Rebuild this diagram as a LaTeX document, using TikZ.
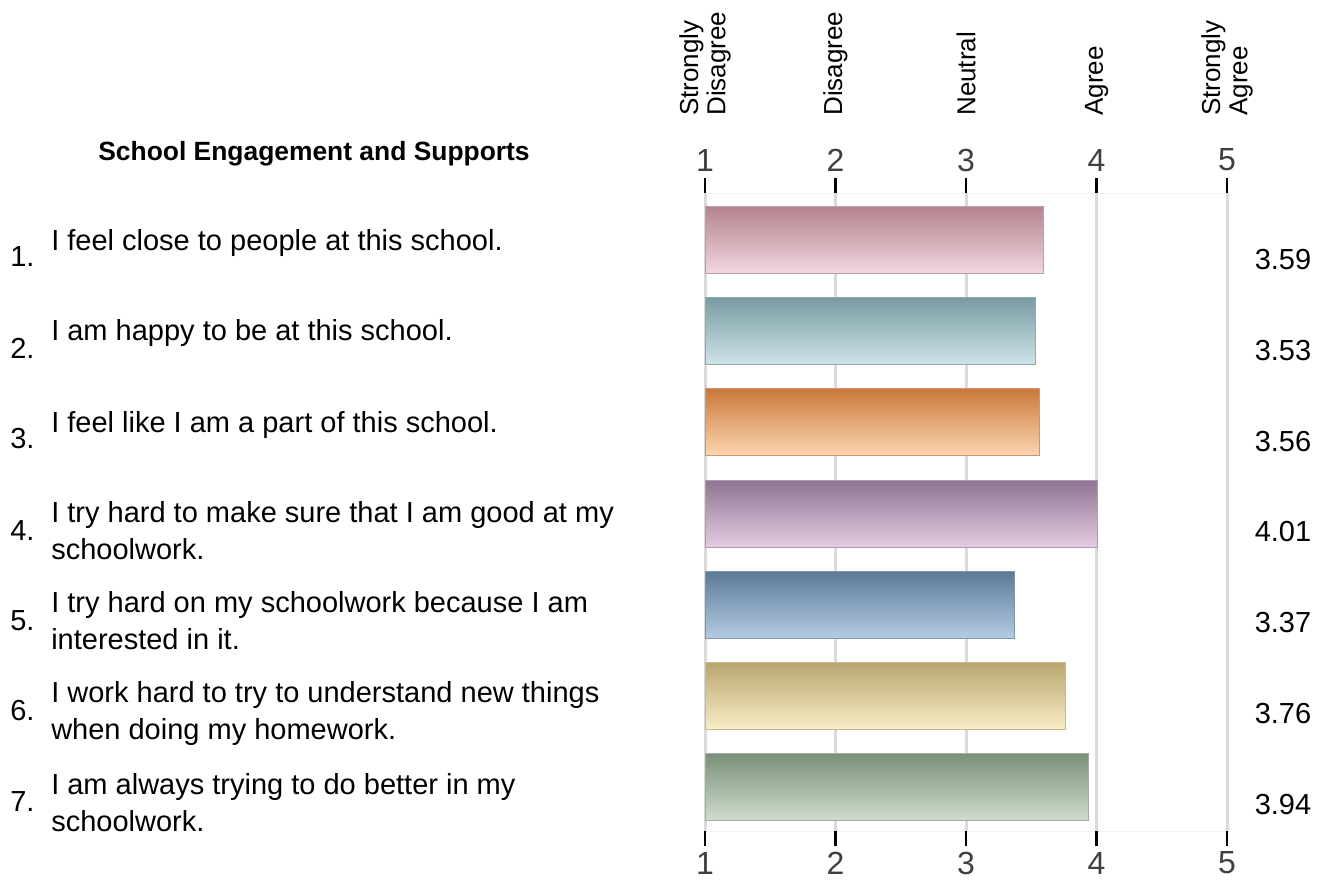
\documentclass[tikz,border=0pt]{standalone}
\usepackage{fontspec}
\setmainfont{Liberation Sans}
\usepackage{tikz}

\definecolor{gridgray}{RGB}{218,218,218}
\definecolor{framegray}{RGB}{242,242,242}
\definecolor{numgray}{RGB}{64,64,64}

\tikzset{
  itemtext/.style={anchor=base west,inner sep=0pt,align=left,font=\fontsize{21.75}{27.75}\selectfont},
  itemnum/.style={anchor=base west,inner sep=0pt,font=\fontsize{21.75}{26}\selectfont},
  scalelab/.style={anchor=west,rotate=90,inner sep=0pt,align=left,font=\fontsize{19.5}{20.5}\selectfont},
  ticknum/.style={inner sep=0pt,text=numgray,font=\fontsize{24}{28}\selectfont},
  valuelab/.style={inner sep=0pt,font=\fontsize{21.75}{26}\selectfont},
  bar/.style={line width=0.75pt},
}

\begin{document}
\begin{tikzpicture}[x=0.75pt,y=0.75pt,yscale=-1,xscale=1]
\useasboundingbox (0,0) rectangle (1327,879);

%Straight Lines: frame top and bottom
\draw [color=framegray,line width=0.75pt] (705,193) -- (1227,193) ;
\draw [color=framegray,line width=0.75pt] (705,831) -- (1227,831) ;

%Straight Lines: grid and ticks
\foreach \gx in {705,835.5,966,1096.5,1227}{
  \draw [color=gridgray,line width=2.25pt] (\gx,193) -- (\gx,831) ;
  \draw [line width=2pt] (\gx,178) -- (\gx,193) ;
  \draw [line width=2pt] (\gx,831) -- (\gx,846) ;
}

%Shape: Rectangle [bar 1]
\draw [bar,draw={rgb,255:red,190;green,160;blue,170},top color={rgb,255:red,179;green,131;blue,143},middle color={rgb,255:red,232;green,180;blue,192},bottom color={rgb,255:red,242;green,214;blue,222}] (705,206) rectangle (1043,273) ;
%Shape: Rectangle [bar 2]
\draw [bar,draw={rgb,255:red,140;green,170;blue,176},top color={rgb,255:red,119;green,155;blue,161},middle color={rgb,255:red,157;green,202;blue,211},bottom color={rgb,255:red,205;green,227;blue,232}] (705,297) rectangle (1035.2,364) ;
%Shape: Rectangle [bar 3]
\draw [bar,draw={rgb,255:red,205;green,150;blue,110},top color={rgb,255:red,200;green,120;blue,58},middle color={rgb,255:red,251;green,167;blue,92},bottom color={rgb,255:red,253;green,213;blue,175}] (705,388) rectangle (1039.1,455) ;
%Shape: Rectangle [bar 4]
\draw [bar,draw={rgb,255:red,175;green,155;blue,178},top color={rgb,255:red,142;green,117;blue,145},middle color={rgb,255:red,195;green,159;blue,200},bottom color={rgb,255:red,227;green,204;blue,227}] (705,480) rectangle (1097.8,547) ;
%Shape: Rectangle [bar 5]
\draw [bar,draw={rgb,255:red,125;green,150;blue,172},top color={rgb,255:red,91;green,122;blue,150},middle color={rgb,255:red,122;green,161;blue,200},bottom color={rgb,255:red,180;green,203;blue,227}] (705,571) rectangle (1014.3,638) ;
%Shape: Rectangle [bar 6]
\draw [bar,draw={rgb,255:red,200;green,185;blue,140},top color={rgb,255:red,185;green,165;blue,111},middle color={rgb,255:red,243;green,220;blue,152},bottom color={rgb,255:red,248;green,237;blue,199}] (705,662) rectangle (1065.2,729) ;
%Shape: Rectangle [bar 7]
\draw [bar,draw={rgb,255:red,160;green,172;blue,158},top color={rgb,255:red,121;green,143;blue,120},middle color={rgb,255:red,157;green,180;blue,154},bottom color={rgb,255:red,207;green,220;blue,205}] (705,753) rectangle (1088.7,820) ;

% Text Node: scale labels
\node (sdis) [scalelab] at (705,116) {Strongly\\Disagree};
\node (dis) [scalelab] at (835.5,116) {Disagree};
\node (neu) [scalelab] at (966,116) {Neutral};
\node (agr) [scalelab] at (1096.5,116) {Agree};
\node (sagr) [scalelab] at (1227,116) {Strongly\\Agree};

% Text Node: tick numbers
\node (t1) [ticknum] at (705,160) {1};
\node (t2) [ticknum] at (835.5,160) {2};
\node (t3) [ticknum] at (966,160) {3};
\node (t4) [ticknum] at (1096.5,160) {4};
\node (t5) [ticknum] at (1227,160) {5};
\node (b1) [ticknum] at (705,863) {1};
\node (b2) [ticknum] at (835.5,863) {2};
\node (b3) [ticknum] at (966,863) {3};
\node (b4) [ticknum] at (1096.5,863) {4};
\node (b5) [ticknum] at (1227,863) {5};

% Text Node: title
\node (title) [anchor=base,inner sep=0pt,font=\bfseries\fontsize{19.8}{24}\selectfont] at (314,160) {School Engagement and Supports};

% Text Node: items (multi-line ones sit on their last baseline)
\node (n1) [itemnum] at (10,266) {1.};
\node (q1) [itemtext] at (51,250) {I feel close to people at this school.};
\node (n2) [itemnum] at (10,358) {2.};
\node (q2) [itemtext] at (51,340) {I am happy to be at this school.};
\node (n3) [itemnum] at (10,448) {3.};
\node (q3) [itemtext] at (51,432) {I feel like I am a part of this school.};
\node (n4) [itemnum] at (10,540) {4.};
\node (q4) [itemtext] at (51,559) {I try hard to make sure that I am good at my\\schoolwork.};
\node (n5) [itemnum] at (10,630) {5.};
\node (q5) [itemtext] at (51,649) {I try hard on my schoolwork because I am\\interested in it.};
\node (n6) [itemnum] at (10,720) {6.};
\node (q6) [itemtext] at (51,739) {I work hard to try to understand new things\\when doing my homework.};
\node (n7) [itemnum] at (10,811) {7.};
\node (q7) [itemtext] at (51,831) {I am always trying to do better in my\\schoolwork.};

% Text Node: values
\node (v1) [valuelab] at (1283,260) {3.59};
\node (v2) [valuelab] at (1283,351) {3.53};
\node (v3) [valuelab] at (1283,442) {3.56};
\node (v4) [valuelab] at (1283,532) {4.01};
\node (v5) [valuelab] at (1283,623) {3.37};
\node (v6) [valuelab] at (1283,714) {3.76};
\node (v7) [valuelab] at (1283,805) {3.94};

\end{tikzpicture}
\end{document}
